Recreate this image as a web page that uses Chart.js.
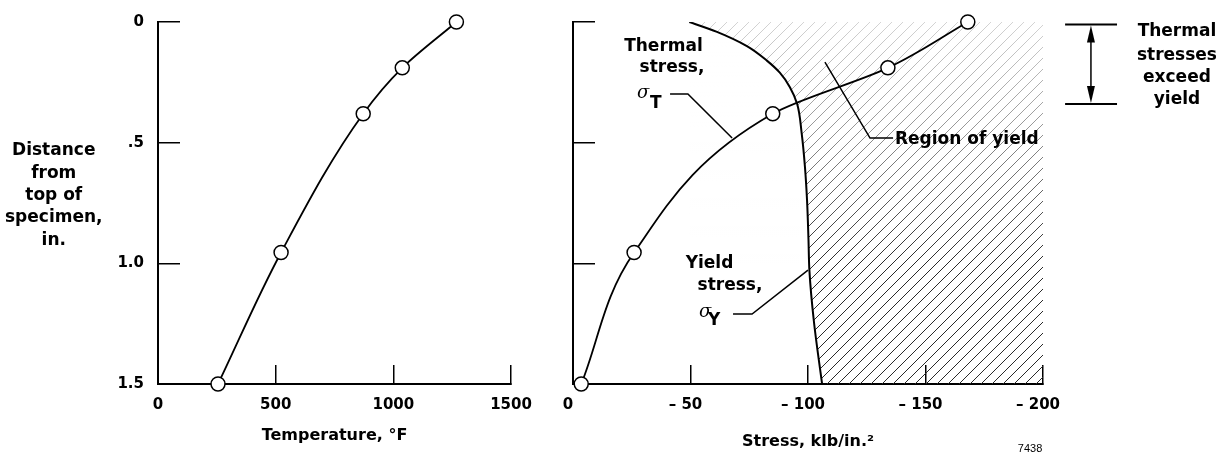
<!DOCTYPE html>
<html><head><meta charset="utf-8">
<script src="https://cdn.jsdelivr.net/npm/chart.js@4.4.1/dist/chart.umd.min.js"></script>
<style>
html,body{margin:0;padding:0;background:#fff;}
#wrap{position:relative;width:1221px;height:455px;overflow:hidden;background:#fff;}
#c1{position:absolute;left:0;top:0;}
#c2{position:absolute;left:540px;top:0;}
</style></head><body>
<div id="wrap"><canvas id="c1" width="540" height="455"></canvas><canvas id="c2" width="681" height="455"></canvas></div>
<script>
// ---------------- data ----------------
const distance = [0, 0.19, 0.38, 0.955, 1.5];           // in. from top of specimen
const temperature = [1268, 1038, 872, 523, 255];         // °F
const thermalStress = [-168, -134, -85, -26, -3.5];      // klb/in.^2
const yieldDistance = [0, 0.04, 0.10, 0.16, 0.21, 0.27, 0.34, 0.46, 0.60, 0.74, 0.90, 1.03, 1.24, 1.50];
const yieldStress = [-49.5, -61, -74, -82.5, -88, -92.3, -95.4, -97.3, -98.7, -99.6, -100.2, -100.6, -102.5, -106];
const distanceTicks = [0, 0.5, 1.0, 1.5];
const distanceTickLabels = ['0', '.5', '1.0', '1.5'];
const temperatureTicks = [0, 500, 1000, 1500];
const temperatureTickLabels = ['0', '500', '1000', '1500'];
const stressTicks = [0, -50, -100, -150, -200];
const stressTickLabels = ['0', '\u2013 50', '\u2013 100', '\u2013 150', '\u2013 200'];
const exceedRange = [0.01, 0.34];   // band where thermal stresses exceed yield (in.)

// ---------------- styles ----------------
const FAM = '"DejaVu Sans", "Liberation Sans", sans-serif';
const tickFont = {family: FAM, size: 15, weight: 'bold'};
const NOTE = 'bold 17px ' + FAM;
const SIG = 'italic 18px "DejaVu Serif", serif';

function noPad(s) { s.paddingTop = 0; s.paddingBottom = 0; s.paddingLeft = 0; s.paddingRight = 0; }
function yAxis(width, labels) {
  return {
    type: 'linear', position: 'left', reverse: true, min: 0, max: 1.5,
    afterBuildTicks: s => { s.ticks = distanceTicks.map(v => ({value: v})); },
    afterFit: s => { s.width = width; noPad(s); },
    border: {display: true, color: '#000', width: 2},
    grid: {drawOnChartArea: false, drawTicks: true, tickLength: -22, color: '#000', tickColor: '#000', lineWidth: 1.5, tickWidth: 1.5},
    ticks: {padding: 36, color: '#000', font: tickFont, autoSkip: false,
      callback: v => labels ? labels[distanceTicks.indexOf(v)] : ''}
  };
}
function xAxis(opts) {
  return Object.assign({
    type: 'linear', position: 'bottom',
    afterFit: s => { s.height = 71; noPad(s); },
    border: {display: true, color: '#000', width: 2},
    grid: {drawOnChartArea: false, drawTicks: true, tickLength: -19, color: '#000', tickColor: '#000', lineWidth: 1.5, tickWidth: 1.5},
  }, opts);
}

function px(chart, s, d) { return [chart.scales.x.getPixelForValue(s), chart.scales.y.getPixelForValue(d)]; }
function text(ctx, chart, s, d, str, font, align) {
  const [x, y] = px(chart, s, d);
  ctx.font = font; ctx.textAlign = align || 'center'; ctx.textBaseline = 'alphabetic'; ctx.fillStyle = '#000';
  ctx.fillText(str, x, y);
}
function poly(ctx, chart, pts, w) {
  ctx.beginPath();
  pts.forEach((p, i) => { const [x, y] = px(chart, p[0], p[1]); if (i) ctx.lineTo(x, y); else ctx.moveTo(x, y); });
  ctx.lineWidth = w || 1.5; ctx.strokeStyle = '#000'; ctx.stroke();
}

// ---------------- left chart: temperature ----------------
const leftTitle = [['Distance', 0.551], ['from', 0.647], ['top of', 0.738], ['specimen,', 0.829], ['in.', 0.925]];
const leftTitleX = -443;  // temperature units, left of the axis
new Chart(document.getElementById('c1'), {
  type: 'line',
  data: {datasets: [{
    data: distance.map((d, i) => ({x: temperature[i], y: d})),
    borderColor: '#000', borderWidth: 1.8, cubicInterpolationMode: 'monotone',
    pointRadius: 7, pointBorderWidth: 1.5, pointBackgroundColor: '#fff', pointBorderColor: '#000',
    clip: false, fill: false
  }]},
  options: {
    indexAxis: 'y', responsive: false, animation: false, devicePixelRatio: 1, events: [],
    layout: {padding: {left: 0, right: 29, top: 22, bottom: 0}},
    plugins: {legend: {display: false}, tooltip: {enabled: false}},
    scales: {
      y: yAxis(158, distanceTickLabels),
      x: xAxis({min: 0, max: 1500,
        afterBuildTicks: s => { s.ticks = temperatureTicks.map(v => ({value: v})); },
        ticks: {padding: 31, color: '#000', font: tickFont, maxRotation: 0, autoSkip: false,
          callback: v => temperatureTickLabels[temperatureTicks.indexOf(v)]},
        title: {display: true, text: 'Temperature, \u00b0F', color: '#000',
          font: {family: FAM, size: 16, weight: 'bold'}, padding: {top: 0, bottom: 10}}})
    }
  },
  plugins: [{id: 'leftNotes', afterDraw(chart) {
    const ctx = chart.ctx; ctx.save();
    leftTitle.forEach(([t, d]) => text(ctx, chart, leftTitleX, d, t, NOTE, 'center'));
    ctx.restore();
  }}]
});

// ---------------- right chart: stress ----------------
const c2 = document.getElementById('c2');
const hatch = (() => {
  const s = 11, t = document.createElement('canvas'); t.width = s; t.height = s;
  const g = t.getContext('2d'); g.strokeStyle = '#2a2a2a'; g.lineWidth = 1;
  g.beginPath(); g.moveTo(0, s); g.lineTo(s, 0); g.moveTo(-2, 2); g.lineTo(2, -2); g.moveTo(s - 2, s + 2); g.lineTo(s + 2, s - 2); g.stroke();
  return c2.getContext('2d').createPattern(t, 'repeat');
})();

new Chart(c2, {
  type: 'line',
  data: {datasets: [
    {label: 'Thermal stress', data: distance.map((d, i) => ({x: thermalStress[i], y: d})),
      borderColor: '#000', borderWidth: 1.8, cubicInterpolationMode: 'monotone',
      pointRadius: 7, pointBorderWidth: 1.5, pointBackgroundColor: '#fff', pointBorderColor: '#000',
      clip: false, fill: false},
    {label: 'Yield stress', data: yieldDistance.map((d, i) => ({x: yieldStress[i], y: d})),
      borderColor: '#000', borderWidth: 2, cubicInterpolationMode: 'monotone', pointRadius: 0,
      fill: {value: -200}, backgroundColor: hatch}
  ]},
  options: {
    indexAxis: 'y', responsive: false, animation: false, devicePixelRatio: 1, events: [],
    layout: {padding: {left: 0, right: 178, top: 22, bottom: 0}},
    plugins: {legend: {display: false}, tooltip: {enabled: false}},
    scales: {
      y: yAxis(33, null),
      x: xAxis({min: -200, max: 0, reverse: true,
        afterBuildTicks: s => { s.ticks = stressTicks.map(v => ({value: v})); },
        ticks: {padding: 31, color: '#000', font: tickFont, maxRotation: 0, autoSkip: false, labelOffset: -5,
          callback: v => stressTickLabels[stressTicks.indexOf(v)]},
        title: {display: true, text: 'Stress, klb/in.\u00b2', color: '#000',
          font: {family: FAM, size: 16, weight: 'bold'}, padding: {top: 0, bottom: 4}}})
    }
  },
  plugins: [{id: 'hatchFade', beforeDatasetDraw(chart, args) {
    if (args.index !== 1) return;
    // the printed hatching is faint toward the top of the region
    const a = chart.chartArea, ctx = chart.ctx, y = chart.scales.y;
    const x0 = chart.scales.x.getPixelForValue(Math.max(...yieldStress));
    const g = ctx.createLinearGradient(0, y.getPixelForValue(0), 0, y.getPixelForValue(1.0));
    g.addColorStop(0, 'rgba(255,255,255,0.8)');
    g.addColorStop(0.45, 'rgba(255,255,255,0.5)');
    g.addColorStop(1, 'rgba(255,255,255,0)');
    ctx.save(); ctx.fillStyle = g; ctx.fillRect(x0, a.top, a.right - x0, a.bottom - a.top); ctx.restore();
  }}, {id: 'rightNotes', afterDraw(chart) {
    const ctx = chart.ctx; ctx.save();
    // Thermal stress label + leader
    text(ctx, chart, -38.5, 0.122, 'Thermal', NOTE, 'center');
    text(ctx, chart, -42.1, 0.209, 'stress,', NOTE, 'center');
    text(ctx, chart, -27.2, 0.315, '\u03c3', SIG, 'left');
    text(ctx, chart, -32.8, 0.356, 'T', NOTE, 'left');
    poly(ctx, chart, [[-41.3, 0.298], [-48.9, 0.298], [-67.7, 0.481]], 1.5);
    // Yield stress label + leader
    text(ctx, chart, -58.1, 1.019, 'Yield', NOTE, 'center');
    text(ctx, chart, -66.8, 1.111, 'stress,', NOTE, 'center');
    text(ctx, chart, -53.6, 1.222, '\u03c3', SIG, 'left');
    text(ctx, chart, -57.4, 1.256, 'Y', NOTE, 'left');
    poly(ctx, chart, [[-68.1, 1.21], [-76.2, 1.21], [-100, 1.028]], 1.5);
    // Region of yield
    text(ctx, chart, -137, 0.506, 'Region of yield', NOTE, 'left');
    poly(ctx, chart, [[-107.2, 0.166], [-126.4, 0.481], [-136.2, 0.481]], 1.5);
    // Thermal stresses exceed yield bracket
    poly(ctx, chart, [[-209.4, exceedRange[0]], [-231.5, exceedRange[0]]], 2);
    poly(ctx, chart, [[-209.4, exceedRange[1]], [-231.5, exceedRange[1]]], 2);
    const [ax, ay0] = px(chart, -220.4, exceedRange[0]);
    const [, ay1] = px(chart, -220.4, exceedRange[1]);
    ctx.beginPath(); ctx.moveTo(ax, ay0 + 10); ctx.lineTo(ax, ay1 - 10); ctx.lineWidth = 1.5; ctx.strokeStyle = '#000'; ctx.stroke();
    ctx.fillStyle = '#000';
    ctx.beginPath(); ctx.moveTo(ax, ay0 + 1); ctx.lineTo(ax - 4, ay0 + 18); ctx.lineTo(ax + 4, ay0 + 18); ctx.closePath(); ctx.fill();
    ctx.beginPath(); ctx.moveTo(ax, ay1 - 1); ctx.lineTo(ax - 4, ay1 - 18); ctx.lineTo(ax + 4, ay1 - 18); ctx.closePath(); ctx.fill();
    ['Thermal', 'stresses', 'exceed', 'yield'].forEach((t, i) => text(ctx, chart, -257, [0.060, 0.157, 0.249, 0.340][i], t, NOTE, 'center'));
    // figure number
    text(ctx, chart, -194.5, 1.78, '7438', '11px "Liberation Sans", sans-serif', 'center');
    ctx.restore();
  }}]
});
</script>
</body></html>
